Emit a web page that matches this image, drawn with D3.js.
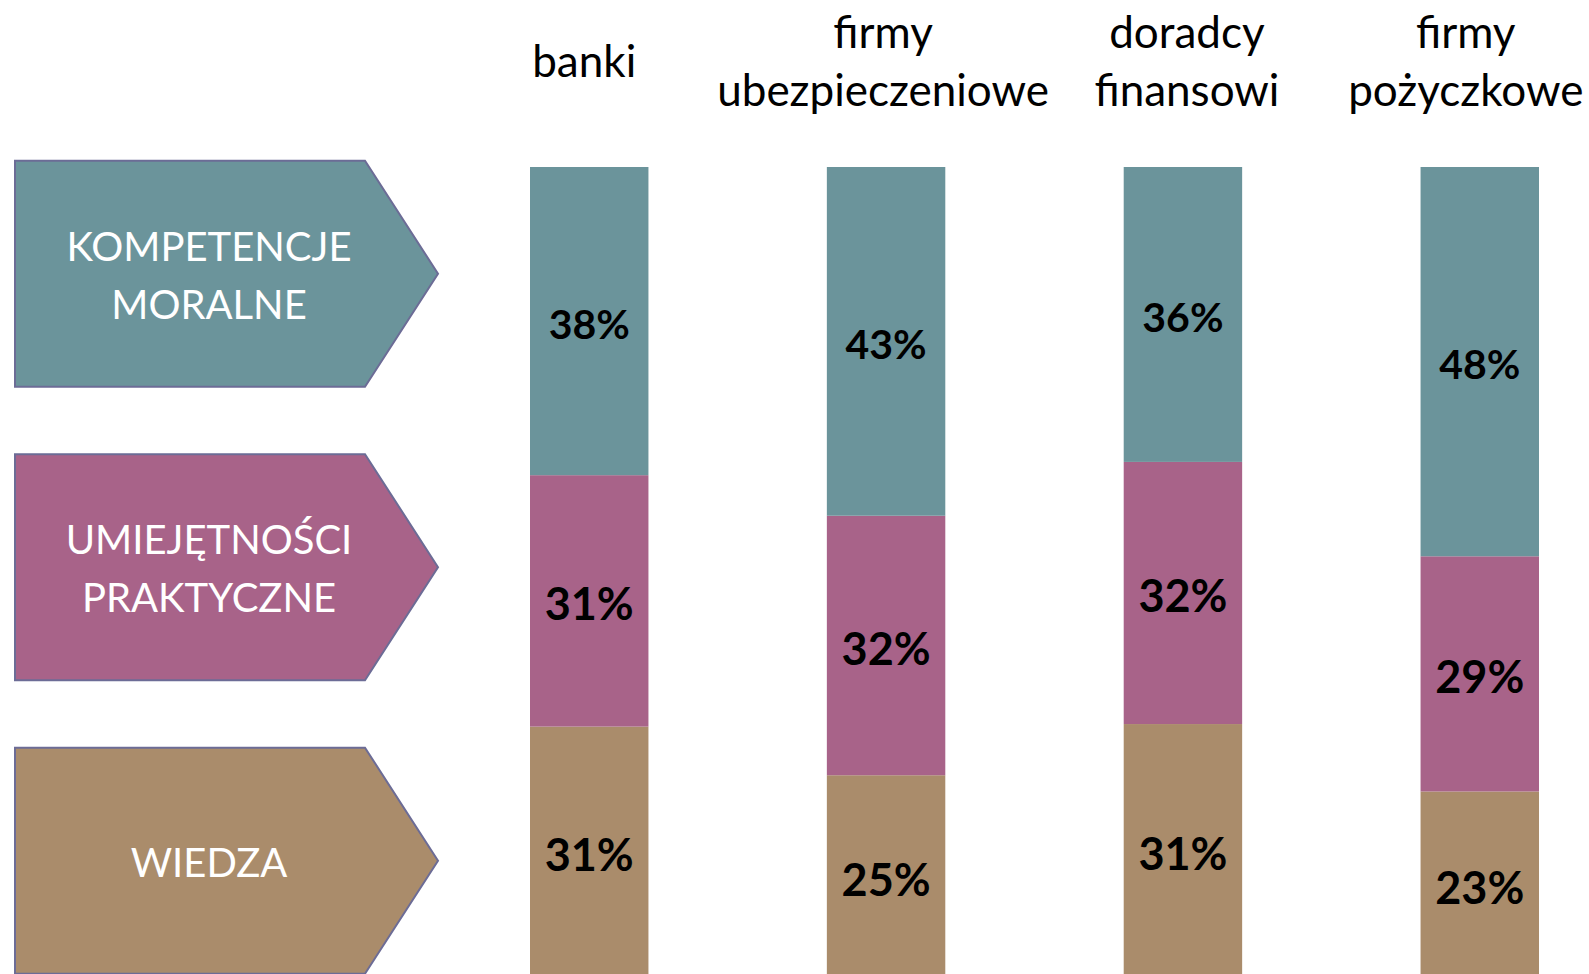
<!DOCTYPE html>
<html>
<head>
<meta charset="utf-8">
<script src="https://cdn.jsdelivr.net/npm/d3@7"></script>
<style>
  html, body { margin: 0; padding: 0; background: #ffffff; overflow: hidden; }
  svg { display: block; }
</style>
</head>
<body>
<svg id="chart" width="1589" height="974"></svg>
<script>
// ---- data ----
const categories = ["banki", "firmy ubezpieczeniowe", "doradcy finansowi", "firmy pożyczkowe"];
const headerLines = [["banki"], ["firmy", "ubezpieczeniowe"], ["doradcy", "finansowi"], ["firmy", "pożyczkowe"]];
const seriesNames = ["KOMPETENCJE MORALNE", "UMIEJĘTNOŚCI PRAKTYCZNE", "WIEDZA"];
const seriesLines = [["KOMPETENCJE", "MORALNE"], ["UMIEJĘTNOŚCI", "PRAKTYCZNE"], ["WIEDZA"]];
const moralValues = [38, 43, 36, 48];
const practicalValues = [31, 32, 32, 29];
const knowledgeValues = [31, 25, 31, 23];
const seriesColors = ["#6b949b", "#a86389", "#aa8c6b"];

// ---- layout constants (not data) ----
const headerShift = [0, 2, 9, -9];

// ---- build table ----
const keys = ["knowledge", "practical", "moral"]; // bottom to top
const table = categories.map((c, i) => ({
  category: c,
  moral: moralValues[i],
  practical: practicalValues[i],
  knowledge: knowledgeValues[i]
}));
const keyColor = { moral: seriesColors[0], practical: seriesColors[1], knowledge: seriesColors[2] };
const keyFont = { moral: 41, practical: 45, knowledge: 45 };

const svg = d3.select("#chart");
const FONT = "Lato, 'Open Sans', 'Noto Sans', sans-serif";

const x = d3.scaleBand().domain(categories).range([530, 1539]).paddingInner(0.601).paddingOuter(0);
const y = d3.scaleLinear().domain([0, 1]).range([978, 167]);

const stack = d3.stack().keys(keys).offset(d3.stackOffsetExpand);
const layers = stack(table);

const gBars = svg.append("g");
layers.forEach(layer => {
  const key = layer.key;
  const g = gBars.append("g");
  g.selectAll("rect")
    .data(layer)
    .join("rect")
    .attr("x", d => x(d.data.category))
    .attr("width", x.bandwidth())
    .attr("y", d => y(d[1]))
    .attr("height", d => y(d[0]) - y(d[1]))
    .attr("fill", keyColor[key]);
  g.selectAll("text")
    .data(layer)
    .join("text")
    .attr("x", d => x(d.data.category) + x.bandwidth() / 2)
    .attr("y", d => (y(d[0]) + y(d[1])) / 2 + keyFont[key] * 0.36 + 3)
    .attr("text-anchor", "middle")
    .attr("font-family", FONT)
    .attr("font-weight", "bold")
    .attr("font-size", keyFont[key])
    .attr("fill", "#000")
    .text(d => d.data[key] + "%");
});

// ---- headers ----
const headerLineHeight = 57.5;
const headerCenter = 62;
const gHead = svg.append("g");
categories.forEach((c, i) => {
  const lines = headerLines[i];
  const cx = x(c) + x.bandwidth() / 2 - 5 + headerShift[i];
  const t = gHead.append("text")
    .attr("text-anchor", "middle")
    .attr("font-family", FONT)
    .attr("font-size", 44)
    .attr("fill", "#000");
  lines.forEach((ln, j) => {
    const by = headerCenter + (j - (lines.length - 1) / 2) * headerLineHeight + 15;
    t.append("tspan").attr("x", cx).attr("y", by).text(ln);
  });
});

// ---- arrow legend ----
const ys = d3.scaleBand().domain(seriesNames).range([160.7, 973.7]).paddingInner(0.23).paddingOuter(0);
const gArrows = svg.append("g");
seriesNames.forEach((s, i) => {
  const top = ys(s), h = ys.bandwidth(), mid = top + h / 2;
  const left = 15, shoulder = 365, tip = 438;
  gArrows.append("path")
    .attr("d", `M${left},${top}L${shoulder},${top}L${tip},${mid}L${shoulder},${top + h}L${left},${top + h}Z`)
    .attr("fill", seriesColors[i])
    .attr("stroke", "#6c6c96")
    .attr("stroke-width", 2);
  const lines = seriesLines[i];
  const t = gArrows.append("text")
    .attr("text-anchor", "middle")
    .attr("font-family", FONT)
    .attr("font-size", 40)
    .attr("fill", "#ffffff");
  lines.forEach((ln, j) => {
    const by = mid + (j - (lines.length - 1) / 2) * 58 + 16;
    t.append("tspan").attr("x", 209).attr("y", by).text(ln);
  });
});
</script>
</body>
</html>
